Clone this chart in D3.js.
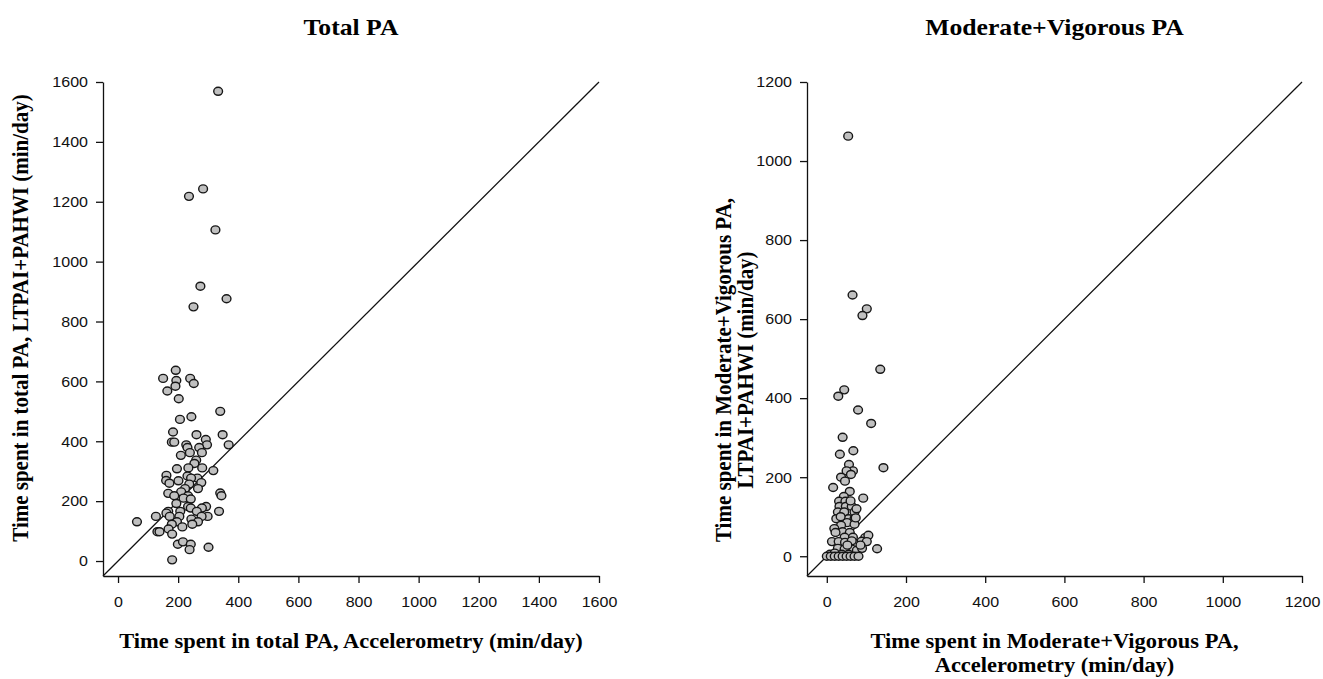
<!DOCTYPE html>
<html>
<head>
<meta charset="utf-8">
<script src="https://cdn.jsdelivr.net/npm/d3@7"></script>
<style>
  body { margin: 0; background: #fff; }
  svg { display: block; }
</style>
</head>
<body>
<svg id="chart" width="1323" height="679"></svg>
<script>
// total PA: accelerometry (x) vs LTPAI+PAHWI (y), min/day
var totalX = [333, 236, 283, 324, 274, 361, 251,
    192, 150, 194, 240, 252, 191, 164, 202, 340, 244, 206, 183, 261, 348, 292, 179, 187, 368,
    227, 296, 231, 270, 239, 279, 209, 260, 254, 280, 234, 196, 317, 161, 231, 264, 243, 160,
    201, 171, 277, 237, 223, 266, 210, 167, 340, 344, 187, 233, 218, 242, 194, 293, 233, 279,
    242, 336, 167, 207, 262, 161, 126, 298, 278, 204, 172, 244, 63, 266, 196, 179, 247, 214,
    168, 131, 138, 180, 199, 216, 242, 301, 238, 180];
var totalY = [1569, 1218, 1243, 1106, 918, 876, 849,
    637, 610, 603, 610, 593, 584, 568, 542, 500, 482, 473, 431, 422, 422, 406, 397, 397, 388,
    388, 388, 379, 379, 362, 362, 353, 337, 326, 311, 311, 308, 302, 286, 284, 277, 277, 269,
    268, 260, 262, 257, 242, 242, 231, 226, 227, 218, 218, 218, 210, 207, 192, 182, 182, 177,
    177, 166, 166, 166, 166, 160, 149, 149, 149, 149, 149, 140, 131, 131, 131, 123, 123, 114,
    107, 98, 98, 90, 56, 64, 56, 46, 38, 4];

// moderate+vigorous PA
var mvpaX = [54, 65, 101, 90, 135, 44, 29, 79, 112, 40, 67, 33, 143, 56, 66, 50, 61, 36, 46, 16,
    58, 92, 43, 31, 47, 32, 48, 63, 28, 44, 70, 24, 55, 70, 51, 36, 19, 70, 73, 40, 58, 22, 45,
    66, 97, 105, 13, 30, 46, 63, 88, 101, 127, 63, 76, 89, 28, 45, 8, 20, 38, 55, 0, 10, 20, 30,
    40, 50, 60, 70, 80, 85, 52, 35, 60, 75];
var mvpaY = [1063, 661, 626, 609, 473, 421, 405, 370, 336, 301, 267, 258, 224, 232, 216, 216, 207,
    200, 190, 174, 164, 147, 151, 139, 139, 126, 126, 126, 112, 112, 112, 95, 95, 95, 85, 78, 70,
    81, 97, 62, 60, 60, 48, 48, 47, 53, 37, 37, 35, 39, 38, 37, 19, 18, 15, 20, 20, 18, 5, 8, 5, 5,
    0, 0, 0, 0, 0, 0, 0, 0, 0, 28, 28, 100, 140, 120];

var totalTicks = [0, 200, 400, 600, 800, 1000, 1200, 1400, 1600];
var mvpaTicks = [0, 200, 400, 600, 800, 1000, 1200];

var STRETCH = 1.07;
var serif = "'Liberation Serif', 'Times New Roman', serif";
var sans = "'Liberation Sans', Arial, sans-serif";

var svg = d3.select("#chart");

function addText(x, y, str, size, rotate) {
    var tr = "translate(" + x + "," + y + ") scale(" + STRETCH + ",1)";
    if (rotate) tr += " rotate(-90)";
    svg.append("text")
        .attr("transform", tr)
        .attr("text-anchor", "middle")
        .attr("font-family", serif)
        .attr("font-weight", "bold")
        .attr("font-size", size + "px")
        .attr("fill", "#000")
        .text(str);
}

function drawPanel(xs, ys, ticks, max, left, right, title, xLabel, yLabel, yLabelX, yLabelMid) {
    var x = d3.scaleLinear().domain([-50, max]).range([left, right]);
    var y = d3.scaleLinear().domain([-50, max]).range([576, 82]);

    var g = svg.append("g");

    var xAxis = g.append("g")
        .attr("transform", "translate(0,576)")
        .call(d3.axisBottom(x).tickValues(ticks).tickFormat(d3.format("d"))
            .tickSize(7).tickSizeOuter(0).tickPadding(13));
    var yAxis = g.append("g")
        .attr("transform", "translate(" + left + ",0)")
        .call(d3.axisLeft(y).tickValues(ticks).tickFormat(d3.format("d"))
            .tickSize(7).tickSizeOuter(0).tickPadding(7));

    [xAxis, yAxis].forEach(function(a) {
        a.selectAll("path, line").attr("stroke", "#111").attr("stroke-width", 1.3);
        a.selectAll("text")
            .attr("font-family", sans)
            .attr("font-size", "15px")
            .attr("fill", "#111")
            .attr("transform", "scale(" + STRETCH + ",1)");
    });

    // line of identity
    g.append("line")
        .attr("x1", x(-50)).attr("y1", y(-50))
        .attr("x2", x(max)).attr("y2", y(max))
        .attr("stroke", "#111")
        .attr("stroke-width", 1.3);

    g.selectAll("ellipse")
        .data(xs)
        .enter()
        .append("ellipse")
        .attr("cx", function(d) { return x(d); })
        .attr("cy", function(d, i) { return y(ys[i]); })
        .attr("rx", 4.4)
        .attr("ry", 4.0)
        .attr("fill", "#c0c0c0")
        .attr("stroke", "#161616")
        .attr("stroke-width", 1.4);

    var cx = (left + right) / 2;
    addText(cx, 35, title, 24);
    xLabel.forEach(function(t, i) { addText(cx, 648 + i * 24, t, 21); });
    yLabel.forEach(function(t, i) { addText(yLabelX[i], yLabelMid, t, 21, true); });
}

drawPanel(totalX, totalY, totalTicks, 1600, 103, 599, "Total PA",
    ["Time spent in total PA, Accelerometry (min/day)"],
    ["Time spent in total PA, LTPAI+PAHWI (min/day)"], [27.5], 318);

drawPanel(mvpaX, mvpaY, mvpaTicks, 1200, 807, 1302, "Moderate+Vigorous PA",
    ["Time spent in Moderate+Vigorous PA,", "Accelerometry (min/day)"],
    ["Time spent in Moderate+Vigorous PA,", "LTPAI+PAHWI (min/day)"], [731, 753], 370);
</script>
</body>
</html>
